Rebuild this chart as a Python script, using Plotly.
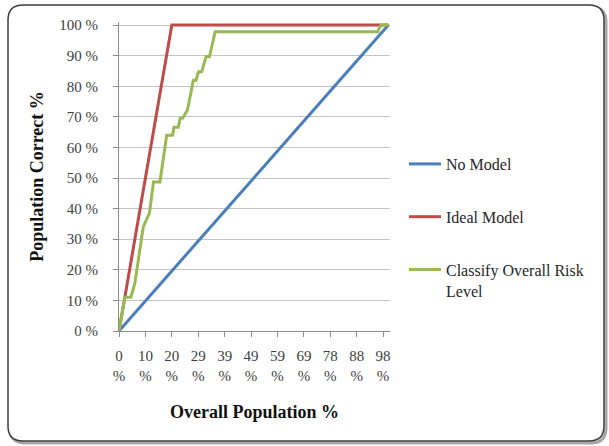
import plotly.graph_objects as go

# Cumulative gains chart: share of the population reached vs. share correctly identified
tick_pos = [0, 9.80, 19.61, 29.41, 39.22, 49.02, 58.82, 68.63, 78.43, 88.24, 98.04]
tick_text = ["0", "10", "20", "29", "39", "49", "59", "69", "78", "88", "98"]
y_ticks = [0, 10, 20, 30, 40, 50, 60, 70, 80, 90, 100]

no_model_x = [0, 100]
no_model_y = [0, 100]

ideal_x = [0, 19.61, 100]
ideal_y = [0, 100, 100]

risk_x = [0, 2.2, 4.4, 5.9, 9.0, 11.3, 12.8, 15.2, 17.7, 19.9, 20.4, 22.0, 22.7, 23.6,
          25.4, 27.6, 28.6, 29.5, 30.7, 32.3, 33.6, 35.7, 96.0, 97.2, 100]
risk_y = [0, 11, 11, 15.7, 34, 38.5, 48.7, 48.7, 64, 64, 66.6, 66.6, 69.5, 69.5,
          72.2, 82, 82, 84.7, 84.7, 89.7, 89.7, 97.8, 97.8, 100, 100]

W, H = 609, 446
L, R, T, B = 119, 219, 22, 115
PW, PH = W - L - R, H - T - B

FONT = "Liberation Serif"


def px(x):
    return (x - L) / PW


def py(y):
    return (H - B - y) / PH


fig = go.Figure()
fig.add_trace(go.Scatter(x=no_model_x, y=no_model_y, mode="lines", name="No Model",
                         line=dict(color="#4A7EBB", width=3), legendgroup="a"))
fig.add_trace(go.Scatter(x=ideal_x, y=ideal_y, mode="lines", name="Ideal Model",
                         line=dict(color="#BE4B48", width=3), legendgroup="b"))
fig.add_trace(go.Scatter(x=risk_x, y=risk_y, mode="lines",
                         name="Classify Overall Risk<br>Level",
                         line=dict(color="#98B954", width=3), legendgroup="c"))

# rounded chart frame with a soft shadow
def rounded(x0, y0, x1, y1, r):
    return (f"M {px(x0 + r)},{py(y0)} L {px(x1 - r)},{py(y0)} "
            f"Q {px(x1)},{py(y0)} {px(x1)},{py(y0 + r)} L {px(x1)},{py(y1 - r)} "
            f"Q {px(x1)},{py(y1)} {px(x1 - r)},{py(y1)} L {px(x0 + r)},{py(y1)} "
            f"Q {px(x0)},{py(y1)} {px(x0)},{py(y1 - r)} L {px(x0)},{py(y0 + r)} "
            f"Q {px(x0)},{py(y0)} {px(x0 + r)},{py(y0)} Z")

shapes = [
    dict(type="path", xref="paper", yref="paper", path=rounded(10, 7, 606, 443, 15),
         line=dict(color="rgba(0,0,0,0.35)", width=3), layer="below"),
    dict(type="path", xref="paper", yref="paper", path=rounded(8, 5, 604, 441, 15),
         line=dict(color="#3C3C3C", width=1.5), fillcolor="white", layer="below"),
]

fig.update_layout(
    width=W, height=H,
    margin=dict(l=L, r=R, t=T, b=B),
    paper_bgcolor="white", plot_bgcolor="rgba(0,0,0,0)",
    font=dict(family=FONT, color="#404040", size=15),
    shapes=shapes,
    showlegend=True,
    legend=dict(x=px(404), y=py(147), xanchor="left", yanchor="top",
                font=dict(family=FONT, size=16, color="#262626"),
                bgcolor="rgba(0,0,0,0)", tracegroupgap=29, valign="top",
                traceorder="grouped", itemwidth=32),
    xaxis=dict(range=[0, 100.6], tickmode="array", tickvals=tick_pos,
               ticktext=[f"{t}<br>%" for t in tick_text],
               showgrid=False, showline=True, linecolor="#8C8C8C", linewidth=1,
               ticks="outside", ticklen=5, tickcolor="#8C8C8C", zeroline=False,
               tickfont=dict(size=15, color="#404040"), ticklabelstandoff=6,
               title=dict(text="<b>Overall Population %</b>", standoff=22,
                          font=dict(size=18, color="#111111"))),
    yaxis=dict(range=[0, 101], tickmode="array", tickvals=y_ticks,
               ticktext=[f"{v} %" for v in y_ticks],
               showgrid=True, gridcolor="#C4C4C4", gridwidth=1,
               showline=True, linecolor="#8C8C8C", linewidth=1,
               ticks="outside", ticklen=5, tickcolor="#8C8C8C", zeroline=False,
               tickfont=dict(size=15, color="#404040"), ticklabelstandoff=12,
               title=dict(text="<b>Population Correct %</b>", standoff=10,
                          font=dict(size=18, color="#111111"))),
)

fig.write_html("out.html")
